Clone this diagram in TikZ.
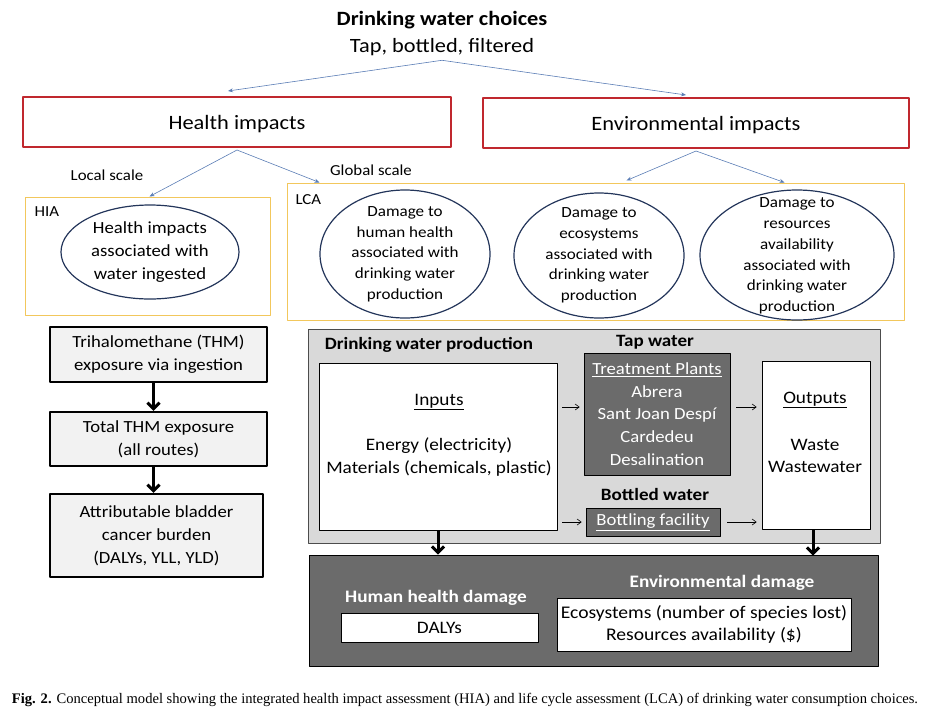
\documentclass[tikz,border=0pt]{standalone}
\usepackage{fontspec}
\setmainfont{Carlito}[FakeStretch=1.1]
\newfontfamily\capfont{Liberation Serif}
\usepackage{tikz}
\usetikzlibrary{
  arrows.meta,   % 箭头样式
  calc,          % 坐标计算
  positioning    % 节点相对定位
}
\definecolor{impactred}{HTML}{C0282E}
\definecolor{scaleyellow}{HTML}{F2C75C}
\definecolor{linkblue}{HTML}{5A7DB5}
\definecolor{ellnavy}{HTML}{23355A}
\definecolor{panelgray}{HTML}{D9D9D9}
\definecolor{boxgray}{HTML}{F2F2F2}
\definecolor{darkpanel}{HTML}{6B6B6B}
\tikzset{
  impact box/.style={
    draw=impactred,
    line width=2pt,
    minimum height=50pt,
    text depth=0pt,
    font=\fontsize{20.4}{24}\selectfont
  },
  scale box/.style={
    draw=scaleyellow,
    line width=1pt
  },
  link/.style={
    -{Stealth[length=5pt,width=4pt]},
    line width=0.6pt,
    color=linkblue
  },
  ell/.style={
    draw=ellnavy,
    line width=1.2pt
  },
  ell text/.style={
    align=center,
    font=\fontsize{15.5}{20.7}\selectfont
  },
  hia box/.style={
    draw=black,
    line width=2.4pt,
    fill=boxgray,
    align=center,
    font=\fontsize{17}{23}\selectfont
  },
  thick arrow/.style={
    -{Straight Barb[length=6pt,width=12pt]},
    line width=3pt
  },
  thin arrow/.style={
    -{Straight Barb[length=4pt,width=6pt]},
    line width=0.6pt
  },
  white box/.style={
    draw=black,
    line width=0.7pt,
    fill=white,
    align=center,
    font=\fontsize{17.5}{22.5}\selectfont
  },
  dark box/.style={
    draw=black,
    line width=0.7pt,
    fill=darkpanel,
    text=white,
    align=center,
    font=\fontsize{17}{22.7}\selectfont
  },
  head/.style={
    font=\bfseries\fontsize{17.3}{20}\selectfont
  },
  small lab/.style={
    font=\fontsize{15.3}{17}\selectfont
  }
}

\begin{document}
\begin{tikzpicture}[x=1pt, y=-1pt, line join=round]
  \useasboundingbox (0,0) rectangle (932,724);

  % ===================================
  % 顶部：饮水选择与两类影响
  % ===================================
  \node[align=center, font=\fontsize{20.3}{27}\selectfont] (choice) at (442,33.5)
    {\textbf{Drinking water choices}\\Tap, bottled, filtered};

  \node[impact box, minimum width=428pt] (health) at (237,122) {Health impacts};
  \node[impact box, minimum width=426pt] (env) at (696,123) {Environmental impacts};

  \draw[link] ([yshift=-1pt]choice.south) -- ([shift={(-9,-5)}]health.north);
  \draw[link] ([yshift=-1pt]choice.south) -- ([shift={(-10,-2)}]env.north);

  % ===================================
  % HIA 与 LCA 框
  % ===================================
  \node[scale box, minimum width=245pt, minimum height=118pt] (hia) at (147.5,256) {};
  \node[scale box, minimum width=617pt, minimum height=137pt] (lca) at (595.5,251.5) {};
  \node[small lab, anchor=west] (hialab) at (31,212) {HIA};
  \node[small lab, anchor=west] (lcalab) at (292,200) {LCA};

  \node[small lab] (local) at (107,175) {Local scale};
  \node[small lab] (global) at (371,170) {Global scale};

  \draw[link] ([yshift=-2pt]health.south) -- ([xshift=2pt]hia.north);
  \draw[link] ([yshift=-2pt]health.south) -- ($(lca.north west)+(33,0)$);
  \draw[link] ([yshift=-2pt]env.south) -- ($(lca.north west)+(340,-2)$);
  \draw[link] ([yshift=-2pt]env.south) -- ($(lca.north west)+(498,0)$);

  % 椭圆：文字节点 + 椭圆轮廓
  \node[align=center, font=\fontsize{17}{23}\selectfont] (hiaell) at (150,252)
    {Health impacts\\associated with\\water ingested};
  \draw[ell] (hiaell.center) ellipse [x radius=89pt, y radius=47pt];

  \node[ell text] (dmghh) at (405,254)
    {Damage to\\human health\\associated with\\drinking water\\production};
  \draw[ell] (dmghh.center) ellipse [x radius=85pt, y radius=64pt];

  \node[ell text] (dmgeco) at (599,255.5)
    {Damage to\\ecosystems\\associated with\\drinking water\\production};
  \draw[ell] (dmgeco.center) ellipse [x radius=85pt, y radius=62.5pt];

  \node[ell text] (dmgres) at (797,256)
    {Damage to\\resources\\availability\\associated with\\drinking water\\production};
  \draw[ell] ($(dmgres.center)+(0,-1)$) ellipse [x radius=97pt, y radius=65pt];

  % ===================================
  % 左列：THM 暴露链
  % ===================================
  \node[hia box, minimum width=217pt, minimum height=55pt] (thm) at (158.5,354.5)
    {Trihalomethane (THM)\\exposure via ingestion};
  \node[hia box, minimum width=217pt, minimum height=54pt] (total) at (158.5,439)
    {Total THM exposure\\(all routes)};
  \node[hia box, minimum width=213pt, minimum height=83pt] (burden) at (156.5,535.5)
    {Attributable bladder\\cancer burden\\(DALYs, YLL, YLD)};

  \draw[thick arrow] ([xshift=-5pt]thm.south) -- ([xshift=-5pt]total.north);
  \draw[thick arrow] ([xshift=-5pt]total.south) -- ([xshift=-3pt]burden.north);

  % ===================================
  % 饮用水生产（LCA 清单）
  % ===================================
  \node[draw=gray!60!black, line width=1pt, fill=panelgray,
        minimum width=572pt, minimum height=214pt] (prod) at (594,436) {};
  \node[head] (prodlab) at (429,345) {Drinking water production};

  \node[white box, minimum width=238pt, minimum height=167pt] (inputs) at (438,446.5) {};
  \node[align=center, font=\fontsize{17.5}{22.5}\selectfont] at (439,402) {\underline{Inputs}};
  \node[align=center, font=\fontsize{17.5}{22.5}\selectfont] at (439,457)
    {Energy (electricity)\\Materials (chemicals, plastic)};

  \node[head] (taplab) at (655,342) {Tap water};
  \node[dark box, minimum width=146pt, minimum height=122pt] (plants) at (657,414)
    {\underline{Treatment Plants}\\Abrera\\Sant Joan Despí\\Cardedeu\\Desalination};

  \node[white box, minimum width=108pt, minimum height=168pt] (outputs) at (816,445) {};
  \node[align=center, font=\fontsize{17.5}{22.5}\selectfont] at (815,400) {\underline{Outputs}};
  \node[align=center, font=\fontsize{17.5}{22.5}\selectfont] at (815,456) {Waste\\Wastewater};

  \node[head] (botlab) at (655,494) {Bottled water};
  \node[dark box, minimum width=134pt, minimum height=28pt, inner sep=2pt] (bottling) at (653,522)
    {\underline{Bottling facility}};

  \draw[thin arrow] ($(inputs.east |- plants.west)+(5,-7)$) -- ($(plants.west)+(-4,-7)$);
  \draw[thin arrow] ($(plants.east)+(6,-7)$) -- ($(outputs.west |- plants.east)+(-5,-7)$);
  \draw[thin arrow] ($(inputs.east |- bottling.west)+(5,0)$) -- ($(bottling.west)+(-4,0)$);
  \draw[thin arrow] ($(bottling.east)+(7,0)$) -- ($(outputs.west |- bottling.east)+(-5,0)$);

  % ===================================
  % 底部：损害结果
  % ===================================
  \node[draw=black, line width=1pt, fill=darkpanel,
        minimum width=569pt, minimum height=111pt] (dmg) at (593.5,610.5) {};

  \draw[thick arrow] (inputs.south) -- (inputs.south |- dmg.north);
  \draw[thick arrow] ([xshift=-3pt]outputs.south) -- ([xshift=-3pt,yshift=-1pt]outputs.south |- dmg.north);

  \node[head, text=white, font=\bfseries\fontsize{17.5}{20}\selectfont] (hhlab) at (436,598) {Human health damage};
  \node[white box, minimum width=197pt, minimum height=29pt, inner sep=1pt,
        font=\fontsize{17.5}{22}\selectfont] (dalys) at (439.5,627.5) {DALYs};

  \node[head, text=white, font=\bfseries\fontsize{17.5}{20}\selectfont] (envlab) at (722,583) {Environmental damage};
  \node[white box, minimum width=294pt, minimum height=53pt, inner sep=1pt,
        font=\fontsize{17.8}{22}\selectfont] (envdmg) at (704,624.5)
    {Ecosystems (number of species lost)\\Resources availability (\$)};

  % 图注
  \node[inner sep=0pt] (caption) at (465,700)
    {\resizebox{906pt}{!}{\capfont\fontsize{14}{16}\selectfont
      \textbf{Fig. 2.} Conceptual model showing the integrated health impact assessment (HIA) and life cycle assessment (LCA) of drinking water consumption choices.}};
\end{tikzpicture}
\end{document}
